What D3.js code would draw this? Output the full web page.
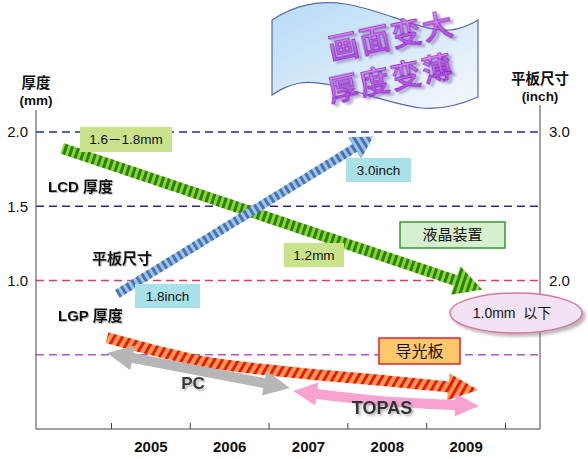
<!DOCTYPE html>
<html><head><meta charset="utf-8">
<script src="https://cdn.jsdelivr.net/npm/d3@7"></script>
<style>body{margin:0;background:#fff} svg{display:block}</style>
</head><body><svg id="c" width="588" height="459"></svg>
<script>
// ---------- data ----------
const years = [2005, 2006, 2007, 2008, 2009];
const yearEdges = [2004.5, 2005.5, 2006.5, 2007.5, 2008.5, 2009.5];
const mmTicks = [1.0, 1.5, 2.0];
const inchTicks = [2.0, 3.0];
const refLinesMm = [2.0, 1.5, 1.0, 0.5];
// [year, value]
const lcdThickness = [[2003.88, 1.89], [2009.21, 0.94]];          // mm
const panelSize = [[2004.58, 1.91], [2007.83, 2.97]];             // inch
const lgpThickness = [[2004.45, 0.615], [2005.63, 0.458], [2006.75, 0.384], [2008.02, 0.323], [2009.16, 0.263]]; // mm
const pcPeriod = [[2004.45, 0.512], [2006.77, 0.276]];
const topasPeriod = [[2006.81, 0.256], [2007.91, 0.189], [2009.17, 0.155]];
const bannerLines = ["画面变大", "厚度变薄"];

// ---------- setup ----------
const FONT = '"Liberation Sans", Arial, "Noto Sans CJK SC", sans-serif';
const CJK = '"Noto Sans CJK SC", sans-serif';
const svg = d3.select('#c');
const defs = svg.append('defs');
const plotLeft = 36, plotRight = 540, plotBottom = 429;
const x = d3.scaleLinear().domain([2004.5, 2009.5]).range([111, 505]);
const y = d3.scaleLinear().domain([0, 2]).range([429, 132]);
const yIn = d3.scaleLinear().domain([1, 3]).range([429, 132]);

function stripes(id, c1, c2, period, angle) {
  const p = defs.append('pattern').attr('id', id).attr('patternUnits', 'userSpaceOnUse')
    .attr('width', period).attr('height', period).attr('patternTransform', `rotate(${angle})`);
  p.append('rect').attr('x', 0).attr('y', 0).attr('width', period / 2).attr('height', period).attr('fill', c1);
  p.append('rect').attr('x', period / 2).attr('y', 0).attr('width', period / 2).attr('height', period).attr('fill', c2);
}
const shadow = (id, dx, dy, sd, col, op) => {
  defs.append('filter').attr('id', id).attr('x', '-20%').attr('y', '-40%').attr('width', '150%').attr('height', '180%')
    .append('feDropShadow').attr('dx', dx).attr('dy', dy).attr('stdDeviation', sd)
    .attr('flood-color', col).attr('flood-opacity', op);
};
shadow('tsh', 1, 1, 0.6, '#888', 0.6);
shadow('bsh', 2, 2, 0.8, '#999', 0.7);
shadow('psh', 3, 3, 1.0, '#8070a0', 0.55);
shadow('esh', 3, 3, 1.5, '#777', 0.5);

// ---------- banner ----------
const bg = defs.append('linearGradient').attr('id', 'bannerG').attr('x1', 0).attr('y1', 0).attr('x2', 1).attr('y2', 1);
bg.append('stop').attr('offset', 0).attr('stop-color', '#b6dbf7');
bg.append('stop').attr('offset', 0.6).attr('stop-color', '#dcecf9');
bg.append('stop').attr('offset', 1).attr('stop-color', '#f6f9fc');
svg.append('path')
  .attr('d', 'M272,20 C295,5 320,0 345,4 C385,10 420,32 450,30 C462,29 470,25 478,20 L478,97 C462,104 440,110 421,108 C380,103 330,78 300,83 C288,85 280,90 272,95 Z')
  .attr('fill', 'url(#bannerG)').attr('stroke', '#5a68b4').attr('stroke-width', 1.2);
const tg = defs.append('linearGradient').attr('id', 'txtG').attr('x1', 0).attr('y1', 0).attr('x2', 0).attr('y2', 1);
tg.append('stop').attr('offset', 0).attr('stop-color', '#f0a8ff');
tg.append('stop').attr('offset', 1).attr('stop-color', '#b23ce6');
const bt = svg.append('g').attr('transform', 'translate(331,60) rotate(-12)').attr('filter', 'url(#psh)');
bannerLines.forEach((t, i) => {
  bt.append('text').attr('x', i * -9).attr('y', i * 41).text(t)
    .attr('font-family', CJK).attr('font-size', 30).attr('font-weight', 500).attr('letter-spacing', 2)
    .attr('fill', 'url(#txtG)').attr('stroke', '#8a2cc2').attr('stroke-width', 0.9);
});

// ---------- reference lines ----------
const refColor = v => v >= 1.5 ? '#2a2a96' : (v === 1.0 ? '#e63a5c' : '#b455c8');
svg.append('g').selectAll('line').data(refLinesMm).join('line')
  .attr('x1', plotLeft).attr('x2', plotRight).attr('y1', d => y(d)).attr('y2', d => y(d))
  .attr('stroke', refColor).attr('stroke-width', 1.3).attr('stroke-dasharray', '8,5');

// ---------- axes ----------
svg.append('line').attr('x1', plotLeft).attr('x2', plotLeft).attr('y1', 110).attr('y2', plotBottom).attr('stroke', '#444');
svg.append('line').attr('x1', plotRight).attr('x2', plotRight).attr('y1', 105).attr('y2', plotBottom).attr('stroke', '#444');
svg.append('line').attr('x1', plotLeft).attr('x2', plotRight).attr('y1', plotBottom).attr('y2', plotBottom).attr('stroke', '#444');

const styleAxis = (g, size, weight) => {
  g.select('.domain').remove();
  g.attr('font-family', FONT).attr('font-size', size);
  g.selectAll('text').attr('fill', '#111').attr('font-weight', weight);
};
svg.append('g').attr('transform', `translate(${plotLeft},0)`)
  .call(d3.axisLeft(y).tickValues(mmTicks).tickFormat(d3.format('.1f')).tickSize(0).tickPadding(8))
  .call(g => styleAxis(g, 15, 'normal'));
svg.append('g').attr('transform', `translate(${plotRight},0)`)
  .call(d3.axisRight(yIn).tickValues(inchTicks).tickFormat(d3.format('.1f')).tickSize(0).tickPadding(9))
  .call(g => styleAxis(g, 15, 'normal'));
svg.append('g').attr('transform', `translate(0,${plotBottom})`)
  .call(d3.axisBottom(x).tickValues(yearEdges).tickSize(-6).tickFormat(''))
  .call(g => { g.select('.domain').remove(); g.selectAll('line').attr('stroke', '#444'); });
svg.append('g').attr('transform', `translate(0,${plotBottom})`)
  .call(d3.axisBottom(x).tickValues(years).tickSize(0).tickPadding(12).tickFormat(d3.format('d')))
  .call(g => styleAxis(g, 15, 'bold'));

const txt = (t, px, py, o = {}) => svg.append('text').attr('x', px).attr('y', py).text(t)
  .attr('font-family', FONT).attr('font-size', o.size || 13).attr('font-weight', o.weight || 'normal')
  .attr('text-anchor', o.anchor || 'start').attr('fill', o.fill || '#111')
  .attr('filter', o.filter || null).attr('letter-spacing', o.ls || null);
txt('厚度', plotLeft, 88, {size: 14.5, weight: 'bold', anchor: 'middle'});
txt('(mm)', plotLeft, 105, {size: 13.5, weight: 'bold', anchor: 'middle'});
txt('平板尺寸', plotRight, 83.5, {size: 14.5, weight: 'bold', anchor: 'middle'});
txt('(inch)', plotRight, 100.5, {size: 13.5, weight: 'bold', anchor: 'middle'});

// ---------- arrows ----------
function arrow(pts, o) {
  const g = svg.append('g');
  const gen = d3.line().curve(pts.length > 2 ? d3.curveCatmullRom : d3.curveLinear);
  const tmp = g.append('path').attr('d', gen(pts)).attr('fill', 'none');
  const node = tmp.node(), total = node.getTotalLength();
  const P = s => { const p = node.getPointAtLength(s); return [p.x, p.y]; };
  const s0 = o.startHead ? o.L * 0.85 : 0, s1 = o.endHead ? total - o.L * 0.85 : total;
  const samples = d3.range(41).map(i => P(s0 + (s1 - s0) * i / 40));
  const heads = [];
  if (o.endHead) heads.push([P(total), P(total - o.L)]);
  if (o.startHead) heads.push([P(0), P(o.L)]);
  tmp.remove();
  g.append('path').attr('d', d3.line()(samples)).attr('fill', 'none')
    .attr('stroke', o.fill).attr('stroke-width', o.w);
  heads.forEach(([tip, base]) => {
    const dx = tip[0] - base[0], dy = tip[1] - base[1], len = Math.hypot(dx, dy);
    const nx = -dy / len * o.H / 2, ny = dx / len * o.H / 2;
    g.append('path').attr('d', d3.line()([tip, [base[0] + nx, base[1] + ny], [base[0] - nx, base[1] - ny]]) + 'Z')
      .attr('fill', o.fill);
  });
  return g;
}
const angleOf = p => Math.atan2(p[1][1] - p[0][1], p[1][0] - p[0][0]) * 180 / Math.PI;

const lcdPts = lcdThickness.map(d => [x(d[0]), y(d[1])]);
const panelPts = panelSize.map(d => [x(d[0]), yIn(d[1])]);
const lgpPts = lgpThickness.map(d => [x(d[0]), y(d[1])]);
const pcPts = pcPeriod.map(d => [x(d[0]), y(d[1])]);
const topasPts = topasPeriod.map(d => [x(d[0]), y(d[1])]);

stripes('pGreen', '#267f18', '#8fd62a', 6, angleOf(lcdPts));
stripes('pBlue', '#5a6ca6', '#8ccbf2', 6, angleOf(panelPts));
stripes('pRed', '#e8161e', '#ffa03c', 7, 30);

arrow(lcdPts, {w: 11, L: 28, H: 30, endHead: true, fill: 'url(#pGreen)'});
arrow(panelPts, {w: 9, L: 22, H: 25, endHead: true, fill: 'url(#pBlue)'});
arrow(lgpPts, {w: 11, L: 30, H: 27, endHead: true, fill: 'url(#pRed)'});
arrow(pcPts, {w: 10, L: 26, H: 25, endHead: true, startHead: true, fill: '#b6b6b6'});
arrow(topasPts, {w: 10, L: 24, H: 23, endHead: true, startHead: true, fill: '#f8a2d2'});

// ---------- labels ----------
function box(t, bx, by, bw, bh, o) {
  svg.append('rect').attr('x', bx).attr('y', by).attr('width', bw).attr('height', bh)
    .attr('fill', o.fill).attr('stroke', o.stroke || 'none').attr('stroke-width', o.sw || 0);
  txt(t, bx + bw / 2, by + bh / 2 + (o.size || 13.5) * 0.36, {size: o.size || 13.5, anchor: 'middle', ls: o.ls, fill: '#111'});
}
box('1.6－1.8mm', 80, 127, 92, 25, {fill: '#c9e38c', size: 13.5});
box('3.0inch', 346, 158, 65, 24, {fill: '#a8e2e8', size: 13.5});
box('1.2mm', 284, 243, 60, 24, {fill: '#c9e38c', size: 13.5});
box('1.8inch', 135, 284, 65, 24, {fill: '#a8e2e8', size: 13.5});
box('液晶装置', 400, 222, 105, 26, {fill: '#d6efcf', stroke: '#2f9b2f', sw: 1.5, size: 15});
box('导光板', 379, 338, 81, 26, {fill: '#ffc86a', stroke: '#e02030', sw: 1.5, size: 16});

svg.append('ellipse').attr('cx', 516).attr('cy', 313).attr('rx', 66).attr('ry', 20)
  .attr('fill', '#f3e2f3').attr('stroke', '#d8789f').attr('stroke-width', 1.5).attr('filter', 'url(#esh)');
txt('1.0mm  以下', 512, 318, {size: 14, anchor: 'middle'}).attr('xml:space', 'preserve');

txt('LCD 厚度', 48, 192, {size: 15, weight: 'bold', filter: 'url(#tsh)'});
txt('平板尺寸', 92, 264, {size: 15, weight: 'bold', filter: 'url(#tsh)'});
txt('LGP 厚度', 58, 321, {size: 15, weight: 'bold', filter: 'url(#tsh)'});
txt('PC', 193, 389, {size: 17, weight: 'bold', anchor: 'middle', fill: '#383838', filter: 'url(#bsh)'});
txt('TOPAS', 382, 414, {size: 18, weight: 'bold', anchor: 'middle', fill: '#333', filter: 'url(#bsh)'});
</script></body></html>
